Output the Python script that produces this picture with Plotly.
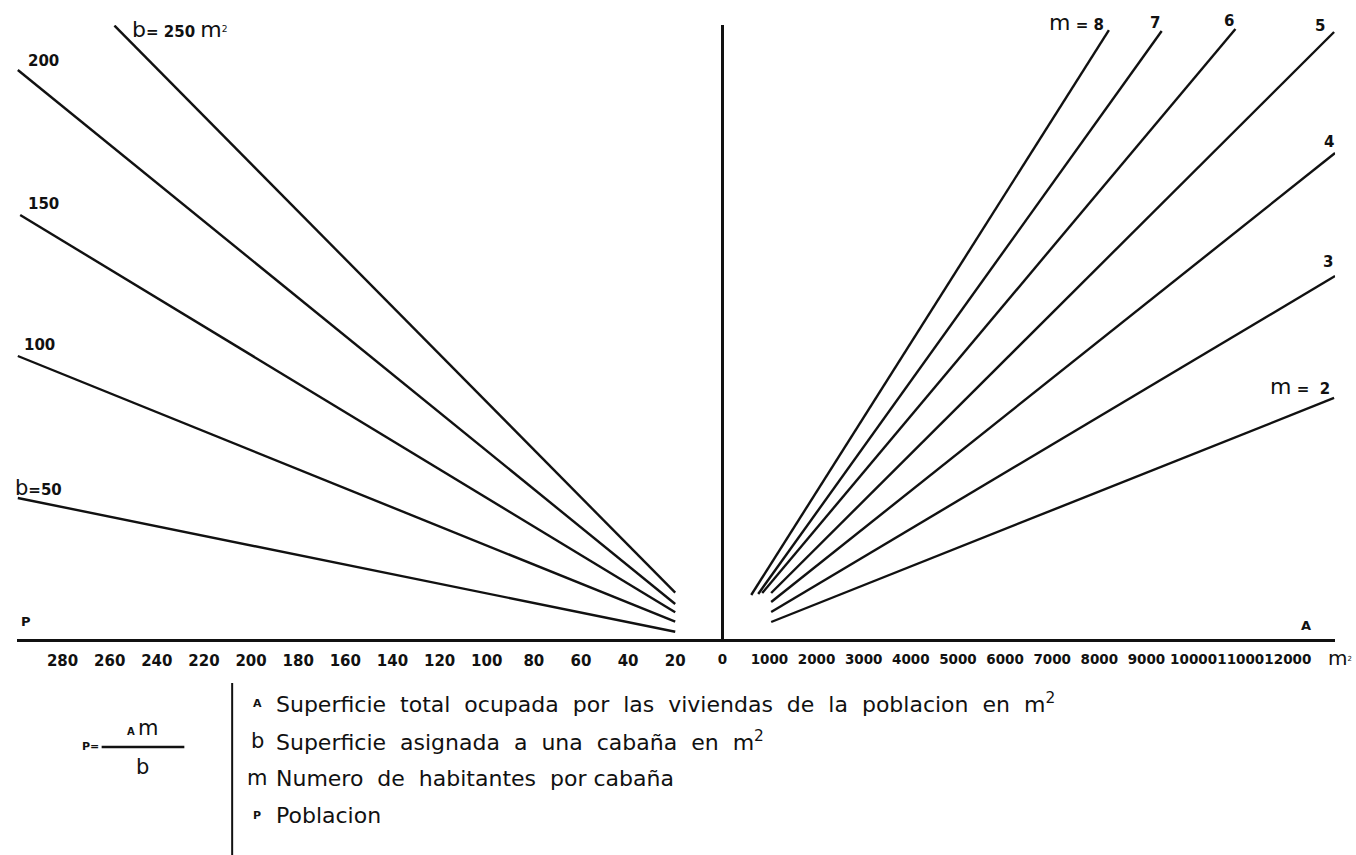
import plotly.graph_objects as go

W, H = 1356, 855

# ---- scales -------------------------------------------------------------
# left:  P  (population)           right: A (total area, m²)
# vertical pivot: A·m = P·b
p_tick_vals = list(range(20, 300, 20))
a_tick_vals = list(range(1000, 12000, 1000))
a_label_vals = [0] + list(range(1000, 13000, 1000))
a_label_text = [str(v) for v in a_label_vals]

# ---- b lines (surface per hut, m²): P and A·m at both ends -------------
b_values = [50, 100, 150, 200, 250]
b_p_low = [20, 20, 20, 20, 20]
b_p_high = [299, 299, 298, 299, 258]
b_y_low = [940, 2010, 3020, 3910, 5120]
b_y_high = [15250, 30440, 45530, 61040, 65800]

# ---- m lines (inhabitants per hut): A and A·m at both ends -------------
m_values = [2, 3, 4, 5, 6, 7, 8]
m_a_low = [1036, 1036, 1036, 1036, 846, 761, 613]
m_a_high = [12981, 13002, 13002, 12981, 10888, 9323, 8203]
m_y_low = [1980, 3050, 4120, 5080, 5080, 4980, 4870]
m_y_high = [25950, 39000, 52160, 65110, 65430, 65220, 65320]

# ---- geometry ---------------------------------------------------------------
AXIS_PX = 640.5          # baseline row in the page
TOP_PX = 25              # top of the pivot line
UNIT = 107.0             # A·m units per pixel, vertical
P_PX = 2.365             # pixels per inhabitant
A_PX = 0.0473            # pixels per m²
X0 = 720                 # zero of both horizontal scales
LEFT_END, RIGHT_END = 12, 1335

FONT = "DejaVu Sans"
INK = "#111111"

fig = go.Figure()

# b family (left)
for b, p0, p1, y0, y1 in zip(b_values, b_p_low, b_p_high, b_y_low, b_y_high):
    fig.add_trace(go.Scatter(x=[p0, p1], y=[y0, y1], mode="lines",
                             xaxis="x", yaxis="y",
                             line=dict(color=INK, width=2.4),
                             hoverinfo="skip", showlegend=False))

# m family (right)
for m, a0, a1, y0, y1 in zip(m_values, m_a_low, m_a_high, m_y_low, m_y_high):
    fig.add_trace(go.Scatter(x=[a0, a1], y=[y0, y1], mode="lines",
                             xaxis="x2", yaxis="y",
                             line=dict(color=INK, width=2.4),
                             hoverinfo="skip", showlegend=False))

# tick marks crossing the baseline
fig.add_trace(go.Scatter(x=p_tick_vals, y=[0] * len(p_tick_vals), mode="markers",
                         xaxis="x", yaxis="y", cliponaxis=False,
                         marker=dict(symbol="line-ns", size=12,
                                     line=dict(color=INK, width=2)),
                         hoverinfo="skip", showlegend=False))
fig.add_trace(go.Scatter(x=a_tick_vals, y=[0] * len(a_tick_vals), mode="markers",
                         xaxis="x2", yaxis="y", cliponaxis=False,
                         marker=dict(symbol="line-ns", size=12,
                                     line=dict(color=INK, width=2)),
                         hoverinfo="skip", showlegend=False))

bottom_px = AXIS_PX - 1.5
y_lo = (AXIS_PX - bottom_px) * UNIT
y_hi = (AXIS_PX - TOP_PX) * UNIT

fig.update_layout(
    width=W, height=H, autosize=False,
    margin=dict(l=0, r=0, t=0, b=0),
    paper_bgcolor="white", plot_bgcolor="rgba(0,0,0,0)",
    showlegend=False,
    font=dict(family=FONT, color=INK, size=13),
    xaxis=dict(domain=[LEFT_END / W, X0 / W],
               range=[(X0 - LEFT_END) / P_PX, 0],
               anchor="y", showline=True, linewidth=3, linecolor=INK,
               showgrid=False, zeroline=False, ticks="",
               tickmode="array", tickvals=p_tick_vals,
               ticktext=[str(v) for v in p_tick_vals], tickangle=0,
               tickfont=dict(family=FONT, size=15, color=INK, weight="bold"),
               ticklabelstandoff=6, fixedrange=True),
    xaxis2=dict(domain=[X0 / W, RIGHT_END / W],
                range=[0, (RIGHT_END - X0) / A_PX],
                anchor="y", showline=True, linewidth=3, linecolor=INK,
                showgrid=False, zeroline=False, ticks="",
                tickmode="array", tickvals=a_label_vals, ticktext=a_label_text,
                tickangle=0,
                tickfont=dict(family=FONT, size=13.5, color=INK, weight="bold"),
                ticklabelstandoff=6, fixedrange=True),
    yaxis=dict(domain=[1 - bottom_px / H, 1 - TOP_PX / H],
               range=[y_lo, y_hi],
               anchor="free", position=X0 / W,
               showline=True, linewidth=2.4, linecolor=INK,
               showgrid=False, zeroline=False, ticks="",
               showticklabels=False, fixedrange=True),
)


def big(s, size=20):
    return f"<span style='font-size:{size}px'>{s}</span>"


def bold(s, size=14):
    return f"<span style='font-size:{size}px'><b>{s}</b></span>"


ann = []

# labels at the upper ends of the b lines
b_label_text = {
    250: big("b", 22) + bold("= 250 ", 15) + big("m", 22) + "<sup>2</sup>",
    200: bold("200", 15),
    150: bold("150", 15),
    100: bold("100", 15),
    50: big("b", 21) + bold("=50", 15),
}
b_label_shift = {250: (16, -4, "left"), 200: (26, 9, "center"),
                 150: (23, 11, "center"), 100: (22, 11, "center"),
                 50: (-5, 10, "left")}
for b, p1, y1 in zip(b_values, b_p_high, b_y_high):
    dx, dy, xa = b_label_shift[b]
    ann.append(dict(x=p1, y=y1, xref="x", yref="y", text=b_label_text[b],
                    showarrow=False, xanchor=xa, yanchor="middle",
                    xshift=dx, yshift=dy, font=dict(family=FONT, size=13, color=INK)))

# labels at the upper ends of the m lines
m_label_text = {8: big("m", 22) + bold(" = ", 15) + bold("8", 15),
                2: big("m", 22) + bold(" = ", 15) + bold(" 2", 15)}
m_label_shift = {8: (-3, 8, "right"), 7: (-7, 8, "center"), 6: (-6, 8, "center"),
                 5: (-14, 6, "center"), 4: (-6, 11, "center"), 3: (-7, 14, "center"),
                 2: (-2, 11, "right")}
for m, a1, y1 in zip(m_values, m_a_high, m_y_high):
    dx, dy, xa = m_label_shift[m]
    txt = m_label_text.get(m, bold(str(m), 15))
    ann.append(dict(x=a1, y=y1, xref="x2", yref="y", text=txt,
                    showarrow=False, xanchor=xa, yanchor="middle",
                    xshift=dx, yshift=dy, font=dict(family=FONT, size=13, color=INK)))


def paper(xp, yp):
    return xp / W, 1 - yp / H


def note(xp, yp, text, xa="center", size=13):
    x, y = paper(xp, yp)
    ann.append(dict(x=x, y=y, xref="paper", yref="paper", text=text,
                    showarrow=False, xanchor=xa, yanchor="middle",
                    font=dict(family=FONT, size=size, color=INK)))


# axis names
note(21, 621, "<b>P</b>", size=13)
note(1306, 625, "<b>A</b>", size=13)
note(1354, 658, big("m", 20) + "<sup>2</sup>", xa="right", size=10)

# formula  P = A m / b
note(96, 746, "<b>P=</b>", xa="right", size=11)
note(138, 728, "<b>A</b> " + big("m", 21), size=10)
note(138, 767, big("b", 21), size=13)

# key
key_rows = [
    (703, "<b>A</b>", "Superficie  total  ocupada  por  las  viviendas  de  la  poblacion  en  m<sup>2</sup>"),
    (741, big("b", 21), "Superficie  asignada  a  una  cabaña  en  m<sup>2</sup>"),
    (778, big("m", 21), "Numero  de  habitantes  por cabaña"),
    (815, "<b>P</b>", "Poblacion"),
]
for yp, key, desc in key_rows:
    note(253, yp, key, size=11)
    note(270, yp, desc, xa="left", size=22)

fig.update_layout(annotations=ann)

fig.update_layout(shapes=[
    dict(type="line", xref="paper", yref="paper",
         x0=paper(228, 0)[0], x1=paper(228, 0)[0],
         y0=paper(0, 683)[1], y1=0, line=dict(color=INK, width=2)),
    dict(type="line", xref="paper", yref="paper",
         x0=paper(97, 0)[0], x1=paper(180, 0)[0],
         y0=paper(0, 747)[1], y1=paper(0, 747)[1], line=dict(color=INK, width=2.5)),
])

fig.write_html("out.html", config={"displayModeBar": False, "staticPlot": True})
